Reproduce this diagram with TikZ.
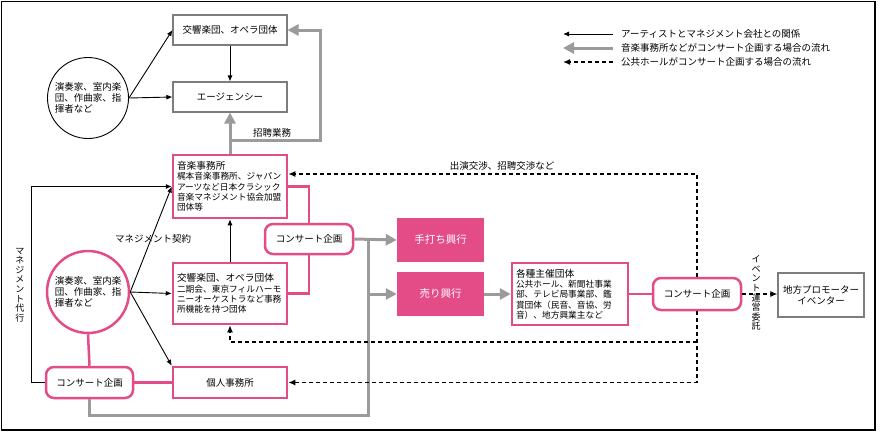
\documentclass[tikz,border=0pt]{standalone}
\usepackage{fontspec}
\setmainfont{Noto Sans CJK JP}
\usetikzlibrary{arrows.meta,calc}
\definecolor{pk}{RGB}{228,76,136}
\definecolor{gy}{RGB}{155,155,155}
\definecolor{bx}{RGB}{125,125,125}
\tikzset{
 base/.style={font=\fontsize{9.5}{10.8}\selectfont},
 small/.style={font=\fontsize{8.7}{10.3}\selectfont},
 graybox/.style={draw=bx, line width=1.1pt, minimum width=114pt, minimum height=30pt, base},
 pinkbox/.style={draw=pk, line width=2.5pt, fill=white},
 cpbox/.style={pinkbox, base, rounded corners=8pt, minimum width=87pt, minimum height=31pt},
 filledbox/.style={fill=pk, text=white, minimum width=87pt, minimum height=44pt, font=\fontsize{10.5}{12}\selectfont},
 barr/.style={line width=0.9pt, -{Latex[length=6pt,width=5pt]}},
 garr/.style={draw=gy, line width=3pt, -{Triangle[length=11pt,width=11pt]}},
 gline/.style={draw=gy, line width=3pt},
 pline/.style={draw=pk, line width=2.5pt},
 darr/.style={line width=1.6pt, dash pattern=on 4pt off 3pt, -{Latex[length=7pt,width=6pt]}},
 lbl/.style={font=\fontsize{9.5}{11}\selectfont, inner sep=1pt},
 vlbl/.style={font=\fontsize{9}{9.6}\selectfont, align=center, inner sep=0pt},
}
\newcommand{\hd}[1]{{\fontsize{9.7}{10.3}\selectfont #1}}
\begin{document}
\begin{tikzpicture}[x=1pt,y=-1pt]
\useasboundingbox (0,0) rectangle (880,432);
\draw[line width=1.4pt] (1.5,1.5) rectangle (875,430);

% nodes
\node[graybox] (orch) at (230,30) {交響楽団、オペラ団体};
\node[graybox] (agency) at (230,97) {エージェンシー};
\node[circle, draw, line width=0.9pt, minimum size=81pt, inner sep=0pt, align=left, base] (circ1) at (88,98) {演奏家、室内楽\\団、作曲家、指\\揮者など};

\node[pinkbox, small, minimum width=114pt, minimum height=63pt, text width=106pt, inner xsep=4pt, align=left] (music) at (230,186.5)
 {\hd{音楽事務所}\\梶本音楽事務所、ジャパン\\アーツなど日本クラシック\\音楽マネジメント協会加盟\\団体等};
\node[pinkbox, small, minimum width=114pt, minimum height=61pt, text width=106pt, inner xsep=4pt, align=left] (orch2) at (230,293.5)
 {\hd{交響楽団、オペラ団体}\\二期会、東京フィルハーモ\\ニーオーケストラなど事務\\所機能を持つ団体};
\node[pinkbox, base, minimum width=114pt, minimum height=31pt] (kojin) at (230,382.5) {個人事務所};
\node[cpbox] (cp3) at (89.5,382.5) {コンサート企画};
\node[circle, draw=pk, line width=2.5pt, minimum size=82pt, inner sep=0pt, align=left, base] (circ2) at (88,292) {演奏家、室内楽\\団、作曲家、指\\揮者など};

\node[cpbox, minimum width=88pt, minimum height=30pt] (cp1) at (309,239) {コンサート企画};
\node[filledbox] (teuchi) at (440.5,240) {手打ち興行};
\node[filledbox] (uri) at (440.5,294) {売り興行};
\node[pinkbox, small, minimum width=116pt, minimum height=62pt, text width=108pt, inner xsep=4pt, align=left] (kaku) at (570,294)
 {\hd{各種主催団体}\\公共ホール、新聞社事業\\部、テレビ局事業部、鑑\\賞団体（民音、音協、労\\音）、地方興業主など};
\node[cpbox, minimum width=88pt, minimum height=32pt] (cp2) at (697,294) {コンサート企画};
\node[draw=bx, line width=1.1pt, minimum width=86pt, minimum height=44pt, align=center, base] (promo) at (821,295) {地方プロモーター\\イベンター};

% labels
\node[lbl] (l1) at (272,133) {招聘業務};
\node[lbl] (l2) at (502,166) {出演交渉、招聘交渉など};
\node[lbl] (l3) at (153,239) {マネジメント契約};
\node[vlbl] (l4) at (20,285) {マ\\ネ\\ジ\\メ\\ン\\ト\\代\\行};
\node[vlbl] (l5) at (756,293) {イ\\ベ\\ン\\ト\\運\\営\\委\\託};

% coordinates
\coordinate (g1) at (230,140);
\coordinate (gR) at (320,30);
\coordinate (gj) at (368,239);
\coordinate (gB) at (368,415);
\coordinate (mgL) at (31,186.5);
\coordinate (dTop) at (697,174);
\coordinate (dMid) at (697,342);

% black connectors
\draw[barr] (circ1.east) -- (orch.west);
\draw[barr] (circ1.east) -- (agency.west);
\draw[barr] (orch.south) -- (agency.north);
\draw[barr] (orch2.north) -- (music.south);
\draw[barr] (circ2.east) -- (music.west);
\draw[barr] (circ2.east) -- (orch2.west);
\draw[barr] (circ2.east) -- (kojin.north west);
\draw[barr] (cp3.west) -| (mgL) -- (music.west);

% gray connectors
\draw[garr] (music.north) -- (agency.south);
\draw[garr] (g1) -| (gR) -- (orch.east);
\draw[garr] (cp1.east) -- (teuchi.west);
\draw[gline] (cp3.south) |- (gB) -- (gj);
\draw[garr] (gB |- uri.west) -- (uri.west);
\draw[garr] (uri.east) -- (kaku.west);

% pink connectors
\draw[pline] (music.east) -| (cp1.north);
\draw[pline] (cp1.south) |- (orch2.east);
\draw[pline] (kaku.east) -- (cp2.west);
\draw[pline] (circ2.south) -- (cp3.north);
\draw[pline] (cp3.east) -- (kojin.west);

% dashed connectors
\draw[darr] (cp2.north) -- (dTop) -- (music.east |- dTop);
\draw[darr] (cp2.south) |- (kojin.east);
\draw[darr] (dMid) -| (orch2.south);
\draw[darr] (cp2.east) -- (cp2.east -| promo.west);

% legend
\coordinate (La1) at (613,34); \coordinate (Lb1) at (563,34);
\coordinate (La2) at (613,48); \coordinate (Lb2) at (563,48);
\coordinate (La3) at (613,62); \coordinate (Lb3) at (563,62);
\draw[barr] (La1) -- (Lb1);
\draw[garr] (La2) -- (Lb2);
\draw[darr] (La3) -- (Lb3);
\node[lbl, anchor=west] (t1) at (620,34) {アーティストとマネジメント会社との関係};
\node[lbl, anchor=west] (t2) at (620,48) {音楽事務所などがコンサート企画する場合の流れ};
\node[lbl, anchor=west] (t3) at (620,62) {公共ホールがコンサート企画する場合の流れ};
\end{tikzpicture}
\end{document}
